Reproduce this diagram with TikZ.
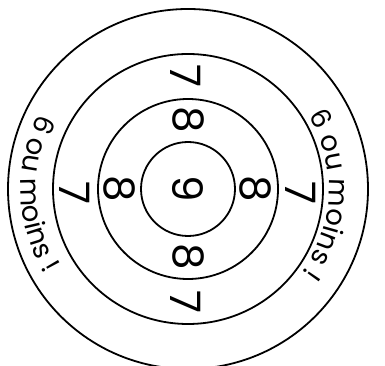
\documentclass[tikz,border=0pt]{standalone}
\usepackage{fontspec}
\setmainfont{Poppins}
\usetikzlibrary{decorations.text}
\begin{document}
\begin{tikzpicture}[x=1pt,y=1pt,
  ring/.style={line width=1.8pt},
  digit/.style={font=\fontsize{42}{42}\selectfont, rotate=-90, inner sep=0pt},
  arctext/.style={decorate, decoration={text along path, text align=center,
     text={|\fontsize{27.5}{30}\selectfont|6 ou moins !}}},
]
\useasboundingbox (0,0) rectangle (385,366);
\coordinate (O) at (188,177);
\draw[ring] (O) circle[radius=180];
\draw[ring] (O) circle[radius=135];
\draw[ring] (O) circle[radius=90];
\draw[ring] (O) circle[radius=47];
\node[digit] (n9) at (O) {9};
\node[digit] (e8t) at ([shift={(90:69)}]O) {8};
\node[digit] (e8b) at ([shift={(-90:68)}]O) {8};
\node[digit] (e8l) at ([shift={(180:69)}]O) {8};
\node[digit] (e8r) at ([shift={(0:67)}]O) {8};
\node[digit] (s7t) at ([shift={(91:113)}]O) {7};
\node[digit] (s7b) at ([shift={(-91:113)}]O) {7};
\node[digit] (s7l) at ([shift={(182:113)}]O) {7};
\node[digit] (s7r) at ([shift={(-2:113)}]O) {7};
\path[arctext] ([shift={(40:141)}]O) arc[start angle=40, end angle=-45, radius=141];
\path[arctext] ([shift={(140:167)}]O) arc[start angle=140, end angle=224, radius=167];
\end{tikzpicture}
\end{document}
